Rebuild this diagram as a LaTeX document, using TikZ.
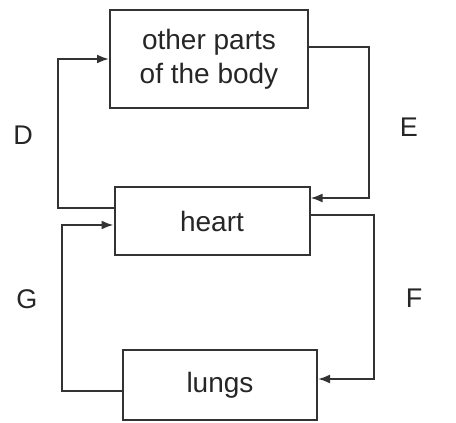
\documentclass[tikz,border=0pt]{standalone}
\usepackage{fontspec}
\setmainfont{Liberation Sans}
\usetikzlibrary{arrows.meta}
\begin{document}
\begin{tikzpicture}[x=1pt,y=-1pt,
  box/.style={draw=black!80,line width=2pt,minimum width=#1,inner sep=0pt,align=center,
    font=\fontsize{28}{34}\selectfont,text=black!85},
  link/.style={draw=black!80,line width=2pt,-{Latex[length=12pt,width=9pt]}},
  lab/.style={font=\fontsize{27}{32}\selectfont,text=black!85}]
\useasboundingbox (0,0) rectangle (456,423);
\node[box=198pt,minimum height=98pt] (other) at (209,59) {other parts\\of the body};
\node[box=195pt,minimum height=68pt] (heart) at (212,221) {heart};
\node[box=194pt,minimum height=70pt] (lungs) at (220,385) {lungs};
\draw[link] ([yshift=13pt]heart.west) -- ++(-56,0) |- (other.west);
\draw[link] ([yshift=12pt]other.east) -- ++(60,0) |- ([yshift=23pt]heart.east);
\draw[link] ([yshift=6pt]heart.east) -- ++(63,0) |- ([yshift=6pt]lungs.east);
\draw[link] ([yshift=-6pt]lungs.west) -- ++(-60,0) |- ([yshift=-4pt]heart.west);
\node[lab] (d) at (23,135) {D};
\node[lab] (e) at (409,127) {E};
\node[lab] (f) at (414,298) {F};
\node[lab] (g) at (27,299) {G};
\end{tikzpicture}
\end{document}
